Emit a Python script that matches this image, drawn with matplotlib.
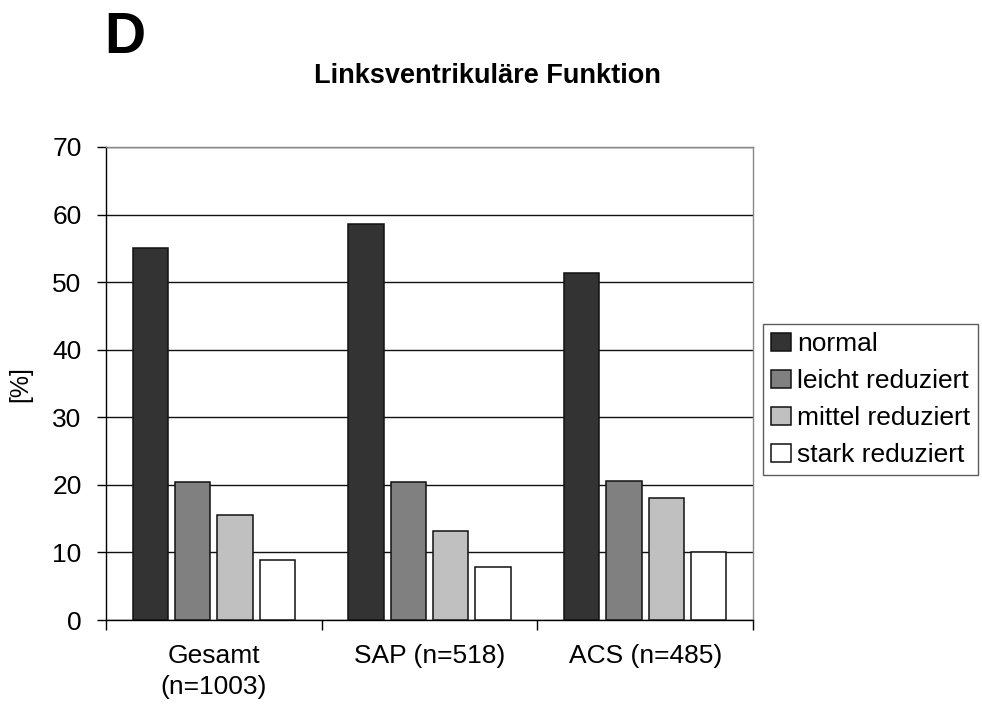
import numpy as np
import matplotlib
matplotlib.use("Agg")
import matplotlib.pyplot as plt

plt.rcParams["font.family"] = ["Liberation Sans", "DejaVu Sans"]

# Left ventricular function by patient group, in percent
groups = ["Gesamt\n(n=1003)", "SAP (n=518)", "ACS (n=485)"]
grades = ["normal", "leicht reduziert", "mittel reduziert", "stark reduziert"]
normal = [55.0, 58.6, 51.3]
leicht = [20.4, 20.4, 20.6]
mittel = [15.6, 13.1, 18.0]
stark = [8.9, 7.9, 10.0]
yticks = [0, 10, 20, 30, 40, 50, 60, 70]

series = [normal, leicht, mittel, stark]
colors = ["#333333", "#808080", "#c0c0c0", "#ffffff"]

fig = plt.figure(figsize=(9.82, 7.12), dpi=100)
ax = fig.add_axes([106 / 982, 1 - 620 / 712, 647 / 982, 473 / 712])

x = np.arange(len(groups))
step = 0.196
width = 0.164
for i, (vals, col, lab) in enumerate(zip(series, colors, grades)):
    ax.bar(x + (i - 1.5) * step, vals, width, color=col, edgecolor="#111111",
           linewidth=1.1, label=lab, zorder=3)

ax.set_xlim(-0.5, len(groups) - 0.5)
ax.set_ylim(0, 70)
ax.set_yticks(yticks)
ax.yaxis.grid(True, color="#111111", linewidth=1.0, zorder=0)
ax.set_axisbelow(True)

# category boundaries carry the tick marks, centres carry the labels
ax.set_xticks(np.arange(-0.5, len(groups)))
ax.set_xticklabels([])
ax.set_xticks(x, minor=True)
ax.set_xticklabels(groups, minor=True, fontsize=19, linespacing=1.4)
ax.tick_params(axis="x", which="major", length=7, width=1, color="black")
ax.tick_params(axis="x", which="minor", length=0, pad=17)
ax.tick_params(axis="y", length=6.5, width=1, pad=11, labelsize=19)

for side in ["left", "bottom"]:
    ax.spines[side].set_color("black")
    ax.spines[side].set_linewidth(1.0)
for side in ["top", "right"]:
    ax.spines[side].set_color("#888888")
    ax.spines[side].set_linewidth(1.0)

fig.text(20 / 982, 1 - 384 / 712, "[%]", fontsize=18, rotation=90,
         ha="center", va="center")

leg = ax.legend(loc="upper left", bbox_to_anchor=(763 / 982, 1 - 324 / 712),
                bbox_transform=fig.transFigure, fontsize=19, frameon=True,
                fancybox=False, borderpad=0.3, labelspacing=0.5,
                handlelength=0.75, handleheight=0.68, handletextpad=0.25,
                borderaxespad=0)
leg.get_frame().set_edgecolor("#333333")
leg.get_frame().set_linewidth(1.0)

fig.text(104 / 982, 1 - 53 / 712, "D", fontsize=41, fontweight="bold",
         ha="left", va="baseline")
fig.text(487.5 / 982, 1 - 83.3 / 712, "Linksventrikuläre Funktion",
         fontsize=19.5, fontweight="bold", ha="center", va="baseline")

fig.savefig("out.png", dpi=100)
